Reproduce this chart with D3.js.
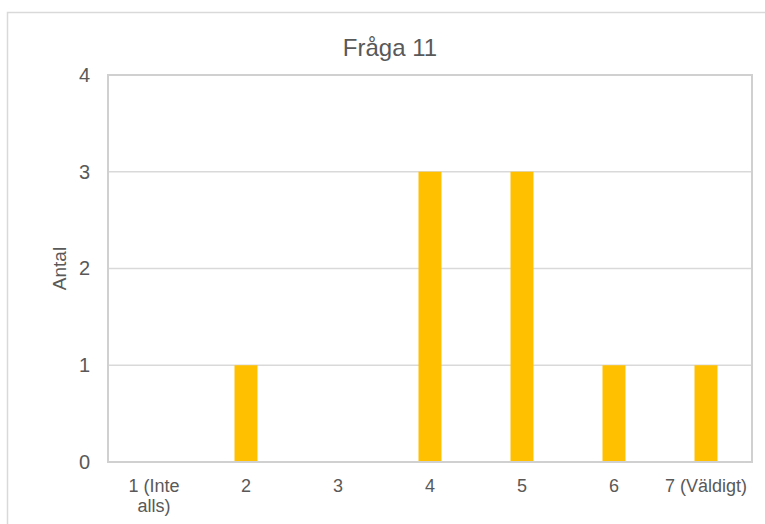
<!DOCTYPE html>
<html>
<head>
<meta charset="utf-8">
<script src="https://cdn.jsdelivr.net/npm/d3@7"></script>
<style>
  body { margin: 0; background: #fff; }
  text { font-family: "Liberation Sans", Arial, sans-serif; fill: #595959; }
</style>
</head>
<body>
<div id="chart"></div>
<script>
// data
var categories = ["1 (Inte alls)", "2", "3", "4", "5", "6", "7 (Väldigt)"];
var counts = [0, 1, 0, 3, 3, 1, 1];
var yTicks = [0, 1, 2, 3, 4];
var title = "Fråga 11";
var yLabel = "Antal";

var W = 765, H = 524;
var margin = {top: 75, right: 13, bottom: 62, left: 108};
var width = W - margin.left - margin.right,
    height = H - margin.top - margin.bottom;

var svg = d3.select("#chart").append("svg")
    .attr("width", W)
    .attr("height", H);

// outer chart frame (only top and left edges show)
svg.append("rect")
    .attr("x", 7.5).attr("y", 12.5)
    .attr("width", W + 10).attr("height", H + 10)
    .attr("fill", "none")
    .attr("stroke", "#d9d9d9")
    .attr("stroke-width", 1.5);

var g = svg.append("g")
    .attr("transform", "translate(" + margin.left + "," + margin.top + ")");

var data = categories.map(function(c, i) { return {cat: c, cnt: counts[i]}; });

var x = d3.scaleBand()
    .domain(categories)
    .range([0, width])
    .paddingInner(0.75)
    .paddingOuter(0.375);
var y = d3.scaleLinear()
    .domain([0, 4])
    .range([height, 0]);

// gridlines
g.selectAll(".grid")
    .data(yTicks.slice(1, -1))
  .enter().append("line")
    .attr("x1", 0).attr("x2", width)
    .attr("y1", function(d) { return y(d); })
    .attr("y2", function(d) { return y(d); })
    .attr("stroke", "#d9d9d9")
    .attr("stroke-width", 1.5);

// bars
g.selectAll(".bar")
    .data(data)
  .enter().append("rect")
    .attr("class", "bar")
    .attr("x", function(d) { return x(d.cat); })
    .attr("width", x.bandwidth())
    .attr("y", function(d) { return y(d.cnt); })
    .attr("height", function(d) { return height - y(d.cnt); })
    .attr("fill", "#ffc000");

// plot area border
g.append("rect")
    .attr("x", 0).attr("y", 0)
    .attr("width", width).attr("height", height)
    .attr("fill", "none")
    .attr("stroke", "#d0d0d0")
    .attr("stroke-width", 2);

// y axis
var yAxis = g.append("g")
    .call(d3.axisLeft(y).tickValues(yTicks).tickSize(0).tickPadding(18).tickFormat(d3.format("d")));
yAxis.select(".domain").remove();
yAxis.selectAll("text")
    .style("font-size", "20px")
    .attr("fill", "#595959");

// x axis
var xAxis = g.append("g")
    .attr("transform", "translate(0," + height + ")")
    .call(d3.axisBottom(x).tickSize(0).tickPadding(17));
xAxis.select(".domain").remove();
xAxis.selectAll("text")
    .style("font-size", "18px")
    .attr("fill", "#595959")
    .each(function(d) {
      var t = d3.select(this);
      if (d === "1 (Inte alls)") {
        t.text(null);
        t.append("tspan").attr("x", 0).attr("dy", "0.71em").text("1 (Inte");
        t.append("tspan").attr("x", 0).attr("dy", "1.1em").text("alls)");
      }
    });

// title
svg.append("text")
    .attr("x", 390)
    .attr("y", 56)
    .attr("text-anchor", "middle")
    .style("font-size", "24px")
    .text(title);

// y label
svg.append("text")
    .attr("transform", "translate(66," + (margin.top + height / 2) + ") rotate(-90)")
    .attr("text-anchor", "middle")
    .style("font-size", "19px")
    .text(yLabel);
</script>
</body>
</html>
